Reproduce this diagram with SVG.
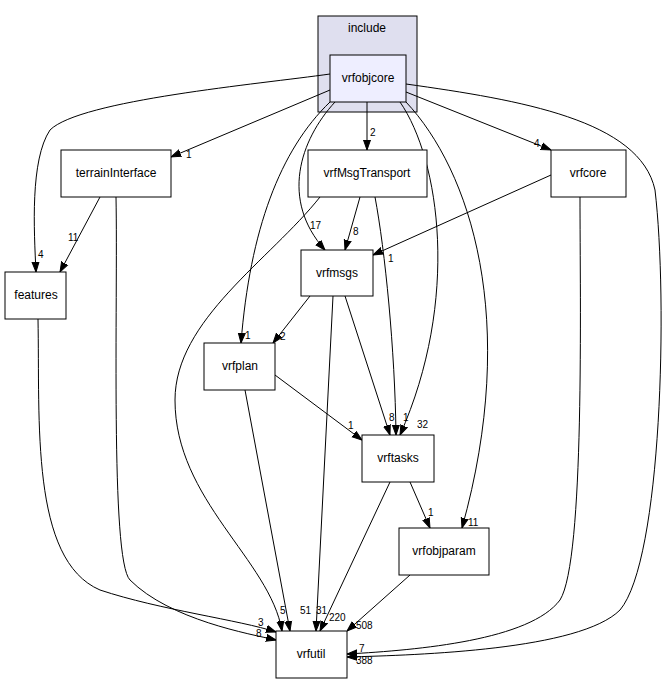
<svg xmlns="http://www.w3.org/2000/svg" width="670" height="684" viewBox="0 0 670 684">
<style>
text{font-family:"Liberation Sans",Arial,sans-serif;font-size:12px;fill:#000}
.n{fill:#fff;stroke:#000;stroke-width:1}
.e{fill:none;stroke:#000;stroke-width:1}
.l{font-size:10px;fill:#000}
</style>
<defs><marker id="a" viewBox="0 0 10 10" refX="10" refY="5" markerWidth="10" markerHeight="10" markerUnits="userSpaceOnUse" orient="auto"><path d="M0,1.5L10,5L0,8.5z" fill="#000" stroke="#000"/></marker></defs>
<rect width="670" height="684" fill="#fff"/>
<g id="cluster_include"><rect x="318" y="16" width="99" height="96" fill="#dfdfef" stroke="#000"/><text x="367" y="32" text-anchor="middle">include</text></g>
<g id="connectors">
<path class="e" marker-end="url(#a)" d="M330,74C260,84 80,100 50,130C30,160 34,230 36,272"/>
<path class="e" marker-end="url(#a)" d="M330,90L171,157"/>
<path class="e" marker-end="url(#a)" d="M367,102L367,150"/>
<path class="e" marker-end="url(#a)" d="M406,92L551,150"/>
<path class="e" marker-end="url(#a)" d="M335,102C300,140 280,200 325,250"/>
<path class="e" marker-end="url(#a)" d="M330,102C280,150 250,230 241,343"/>
<path class="e" marker-end="url(#a)" d="M400,102C440,160 460,300 400,435"/>
<path class="e" marker-end="url(#a)" d="M406,102C470,170 520,320 462,528"/>
<path class="e" marker-end="url(#a)" d="M406,84C520,100 640,120 655,190C668,300 662,560 620,610C580,650 420,655 347,657"/>
<path class="e" marker-end="url(#a)" d="M100,197L60,272"/>
<path class="e" marker-end="url(#a)" d="M116,197C118,300 110,560 130,580C170,620 250,634 276,640"/>
<path class="e" marker-end="url(#a)" d="M38,319C40,420 30,560 100,590C160,610 240,620 276,632"/>
<path class="e" marker-end="url(#a)" d="M360,197L345,250"/>
<path class="e" marker-end="url(#a)" d="M375,197C385,250 395,350 396,435"/>
<path class="e" marker-end="url(#a)" d="M320,197C270,260 175,320 175,400C175,500 270,560 282,631"/>
<path class="e" marker-end="url(#a)" d="M551,175L373,255"/>
<path class="e" marker-end="url(#a)" d="M580,197C580,300 585,560 560,600C530,640 420,650 347,654"/>
<path class="e" marker-end="url(#a)" d="M310,296L273,343"/>
<path class="e" marker-end="url(#a)" d="M345,296L390,435"/>
<path class="e" marker-end="url(#a)" d="M333,296L316,631"/>
<path class="e" marker-end="url(#a)" d="M275,375L362,440"/>
<path class="e" marker-end="url(#a)" d="M245,390L290,631"/>
<path class="e" marker-end="url(#a)" d="M410,482L430,528"/>
<path class="e" marker-end="url(#a)" d="M390,482L320,631"/>
<path class="e" marker-end="url(#a)" d="M410,575L347,631"/>
</g>
<g id="labels">
<text class="l" x="38" y="258">4</text>
<text class="l" x="186" y="158">1</text>
<text class="l" x="370" y="136">2</text>
<text class="l" x="534" y="147">4</text>
<text class="l" x="310" y="229">17</text>
<text class="l" x="245" y="339">1</text>
<text class="l" x="417" y="428">32</text>
<text class="l" x="468" y="526">11</text>
<text class="l" x="356" y="664">388</text>
<text class="l" x="68" y="241">11</text>
<text class="l" x="256" y="637">8</text>
<text class="l" x="258" y="626">3</text>
<text class="l" x="353" y="235">8</text>
<text class="l" x="403" y="421">1</text>
<text class="l" x="300" y="614">51</text>
<text class="l" x="388" y="262">1</text>
<text class="l" x="359" y="652">7</text>
<text class="l" x="280" y="340">2</text>
<text class="l" x="389" y="421">8</text>
<text class="l" x="316" y="614">31</text>
<text class="l" x="348" y="429">1</text>
<text class="l" x="280" y="614">5</text>
<text class="l" x="428" y="516">1</text>
<text class="l" x="329" y="621">220</text>
<text class="l" x="356" y="629">508</text>
</g>
<g id="vrfobjcore"><rect x="330" y="55" width="76" height="47" fill="#eeeeff" stroke="#000"/><text x="368" y="82" text-anchor="middle">vrfobjcore</text></g>
<g id="terrainInterface"><rect class="n" x="61" y="150" width="110" height="47"/><text x="116" y="177" text-anchor="middle">terrainInterface</text></g>
<g id="vrfMsgTransport"><rect class="n" x="308" y="150" width="119" height="47"/><text x="367" y="177" text-anchor="middle">vrfMsgTransport</text></g>
<g id="vrfcore"><rect class="n" x="551" y="150" width="75" height="47"/><text x="588" y="177" text-anchor="middle">vrfcore</text></g>
<g id="features"><rect class="n" x="5" y="272" width="61" height="47"/><text x="36" y="299" text-anchor="middle">features</text></g>
<g id="vrfmsgs"><rect class="n" x="301" y="250" width="72" height="46"/><text x="337" y="277" text-anchor="middle">vrfmsgs</text></g>
<g id="vrfplan"><rect class="n" x="204" y="343" width="71" height="47"/><text x="240" y="370" text-anchor="middle">vrfplan</text></g>
<g id="vrftasks"><rect class="n" x="362" y="435" width="72" height="47"/><text x="398" y="462" text-anchor="middle">vrftasks</text></g>
<g id="vrfobjparam"><rect class="n" x="399" y="528" width="90" height="47"/><text x="444" y="555" text-anchor="middle">vrfobjparam</text></g>
<g id="vrfutil"><rect class="n" x="276" y="631" width="71" height="47"/><text x="311" y="658" text-anchor="middle">vrfutil</text></g>
</svg>
